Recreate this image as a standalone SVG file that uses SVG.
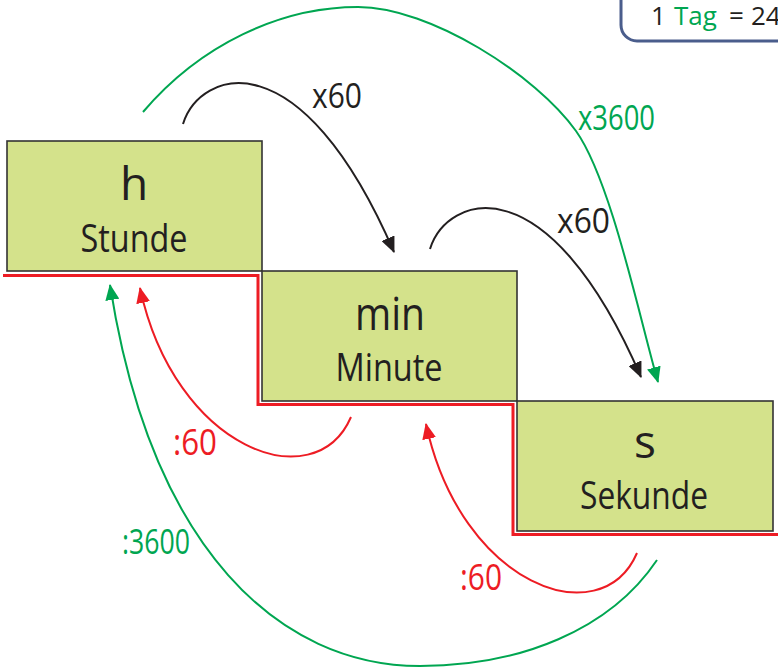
<svg xmlns="http://www.w3.org/2000/svg" width="778" height="668" viewBox="0 0 778 668">
<style>
.box{fill:#d4e28b;stroke:#333333;stroke-width:1.6}
.t{font-family:"Open Sans","DejaVu Sans",sans-serif;fill:#231f20;text-anchor:middle}
.big{font-size:46px}
.mid{font-size:38px}
.lbl{font-family:"Open Sans","DejaVu Sans",sans-serif;font-size:34px}
.k{stroke:#231f20;stroke-width:2;fill:none}
.g{stroke:#00a651;stroke-width:2;fill:none}
.r{stroke:#ed1c24;stroke-width:2;fill:none}
</style>
<defs>
<marker id="ak" markerUnits="userSpaceOnUse" markerWidth="16" markerHeight="14" viewBox="0 0 16 14" refX="15" refY="7" orient="auto"><path d="M0,0 L16,7 L0,14 z" fill="#231f20"/></marker>
<marker id="ag" markerUnits="userSpaceOnUse" markerWidth="16" markerHeight="14" viewBox="0 0 16 14" refX="15" refY="7" orient="auto"><path d="M0,0 L16,7 L0,14 z" fill="#00a651"/></marker>
<marker id="ar" markerUnits="userSpaceOnUse" markerWidth="16" markerHeight="14" viewBox="0 0 16 14" refX="15" refY="7" orient="auto"><path d="M0,0 L16,7 L0,14 z" fill="#ed1c24"/></marker>
</defs>
<rect width="778" height="668" fill="#ffffff"/>

<g id="info">
<rect x="621" y="-20" width="200" height="61" rx="16" fill="#ffffff" stroke="#4a5d8c" stroke-width="3"/>
<text class="lbl" style="font-size:26px" y="25"><tspan x="651" fill="#231f20">1</tspan><tspan x="674" fill="#00a651">Tag</tspan><tspan x="729" fill="#231f20">=</tspan><tspan x="751" fill="#231f20">24</tspan></text>
</g>

<polyline points="3,275.5 258,275.5 258,404.5 513,404.5 513,534.5 778,534.5" fill="none" stroke="#ed1c24" stroke-width="3"/>

<g id="node-h">
<rect class="box" x="7" y="141" width="255" height="130"/>
<text class="t big" x="134" y="200">h</text>
<text class="t mid" x="134" y="252" textLength="107" lengthAdjust="spacingAndGlyphs">Stunde</text>
</g>
<g id="node-min">
<rect class="box" x="262" y="271" width="255" height="130"/>
<text class="t big" x="390" y="330" textLength="70" lengthAdjust="spacingAndGlyphs">min</text>
<text class="t mid" x="389" y="381" textLength="107" lengthAdjust="spacingAndGlyphs">Minute</text>
</g>
<g id="node-s">
<rect class="box" x="517" y="401" width="256" height="130"/>
<text class="t big" x="645" y="458">s</text>
<text class="t mid" x="644" y="509" textLength="128" lengthAdjust="spacingAndGlyphs">Sekunde</text>
</g>

<g id="connectors">
<path class="k" d="M183,124 C200,70 300,35 394,252" marker-end="url(#ak)"/>
<path class="k" d="M430,249 C447,195 547,160 641,377" marker-end="url(#ak)"/>
<path class="g" d="M143,112 C200,45 280,7 358,7 C430,7 536,75 576,131 C611,180 640,320 658,382" marker-end="url(#ag)"/>
<path class="r" d="M351,417 C315,500 175,450 140,288" marker-end="url(#ar)"/>
<path class="r" d="M637,553 C601,636 461,586 426,424" marker-end="url(#ar)"/>
<path class="g" d="M657,560 C610,630 520,666 420,666 C280,666 151.6,550.6 110,285" marker-end="url(#ag)"/>
</g>

<g id="labels">
<text class="lbl" x="312" y="108" fill="#231f20" textLength="50" lengthAdjust="spacingAndGlyphs">x60</text>
<text class="lbl" x="557" y="233" fill="#231f20" textLength="53" lengthAdjust="spacingAndGlyphs">x60</text>
<text class="lbl" x="578" y="130" fill="#00a651" textLength="77" lengthAdjust="spacingAndGlyphs">x3600</text>
<text class="lbl" x="173" y="455" fill="#ed1c24" style="font-size:37px" textLength="44" lengthAdjust="spacingAndGlyphs">:60</text>
<text class="lbl" x="460" y="590" fill="#ed1c24" style="font-size:37px" textLength="42" lengthAdjust="spacingAndGlyphs">:60</text>
<text class="lbl" x="122" y="554" fill="#00a651" textLength="68" lengthAdjust="spacingAndGlyphs">:3600</text>
</g>
</svg>
